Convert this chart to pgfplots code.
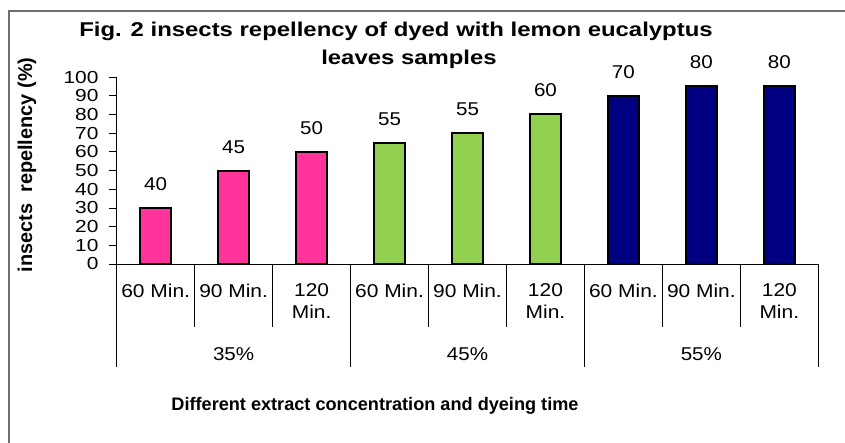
\documentclass[border=0pt]{standalone}
\usepackage{fontspec}
\setmainfont{Liberation Sans}
\usepackage{pgfplots}
\pgfplotsset{compat=1.18}
\usepackage{pgfplotstable}
\definecolor{pinkbar}{RGB}{255,51,153}
\definecolor{greenbar}{RGB}{146,208,80}
\definecolor{navybar}{RGB}{0,0,128}
\definecolor{framegray}{RGB}{110,110,110}
\newcommand\fa{\fontsize{18.6}{22}\selectfont}
\newcommand\fx{\fontsize{18.6}{22}\selectfont}
\newcommand\fy{\fontsize{17.5}{20}\selectfont}

% x = category position, y = bar height, lab = printed value
\pgfplotstableread{
x y lab
0 30 40
1 50 45
2 60 50
}\tabA
\pgfplotstableread{
x y lab
3 65 55
4 70 55
5 80 60
}\tabB
\pgfplotstableread{
x y lab
6 90 70
7 95 80
8 95 80
}\tabC

\begin{document}
\begin{tikzpicture}[x=1bp,y=1bp]
\path[use as bounding box] (0,0) rectangle (845,443);
\draw[framegray, line width=1.5bp] (9,0) -- (9,432) -- (845,432);
\begin{axis}[
  at={(116.7bp,179bp)}, anchor=south west,
  scale only axis, width=701.6bp, height=186.9bp,
  xmin=-0.5, xmax=8.5, ymin=0, ymax=100,
  axis lines=left, axis line style={-, black, line width=0.8bp},
  ytick={0,10,...,100}, tick align=outside, major tick length=8bp,
  y tick style={black, line width=0.8bp},
  xtick={0,...,8},
  xticklabels={60 Min., 90 Min., {120\\Min.}, 60 Min., 90 Min., {120\\Min.}, 60 Min., 90 Min., {120\\Min.}},
  x tick style={draw=none},
  x tick label style={font=\fx, align=center, anchor=north, inner sep=0pt, yshift=-11.5bp, xscale=1.13},
  y tick label style={font=\fy, anchor=east, inner sep=0pt, xshift=-10bp, xscale=1.2},
  /pgf/number format/assume math mode=true,
  clip=false,
  point meta=explicit symbolic,
  nodes near coords,
  nodes near coords style={font=\fa, anchor=south, inner sep=0pt, yshift=16.3bp, xscale=1.11},
]
\addplot[ybar, bar shift=0pt, bar width=31bp, fill=pinkbar, draw=black, line width=2bp] table[x=x, y=y, meta=lab] {\tabA};
\addplot[ybar, bar shift=0pt, bar width=31bp, fill=greenbar, draw=black, line width=2bp] table[x=x, y=y, meta=lab] {\tabB};
\addplot[ybar, bar shift=0pt, bar width=31bp, fill=navybar, draw=black, line width=2bp] table[x=x, y=y, meta=lab] {\tabC};
\pgfplotsinvokeforeach{0.5,1.5,3.5,4.5,6.5,7.5}{
  \draw[black, line width=0.7bp] (axis cs:#1,0) -- ++(0bp,-62.7bp);
}
\pgfplotsinvokeforeach{-0.5,2.5,5.5,8.5}{
  \draw[black, line width=0.7bp] (axis cs:#1,0) -- ++(0bp,-102.7bp);
}
\node[font=\fa, xscale=1.11] at ([yshift=-90bp]axis cs:1,0) {35\%};
\node[font=\fa, xscale=1.11] at ([yshift=-90bp]axis cs:4,0) {45\%};
\node[font=\fa, xscale=1.11] at ([yshift=-90bp]axis cs:7,0) {55\%};
\end{axis}
\node[font=\fontsize{20}{22}\selectfont\bfseries, xscale=1.2] at (396,412) {Fig. 2 insects repellency of dyed with lemon eucalyptus};
\node[font=\fontsize{20}{22}\selectfont\bfseries, xscale=1.2] at (409,384) {leaves samples};
\node[font=\fontsize{20}{22}\selectfont\bfseries, rotate=90] at (27,278) {insects\ \ repellency (\%)};
\node[font=\fontsize{18.2}{20}\selectfont\bfseries] at (375,37) {Different extract concentration and dyeing time};
\end{tikzpicture}
\end{document}
